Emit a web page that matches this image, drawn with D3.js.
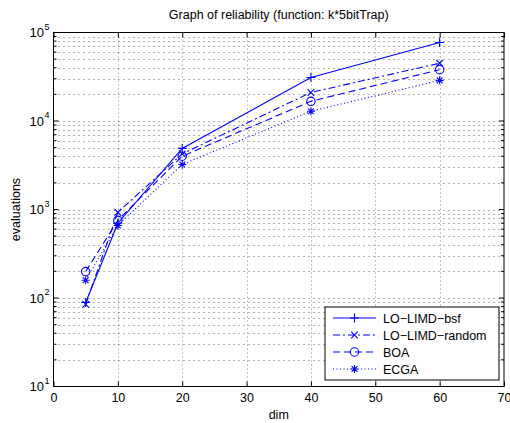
<!DOCTYPE html>
<html><head><meta charset="utf-8">
<script src="https://cdn.jsdelivr.net/npm/d3@7/dist/d3.min.js"></script>
<style>body{margin:0;background:#fff}svg{display:block}text{font-family:"Liberation Sans",Arial,sans-serif}</style>
</head><body><svg id="c" width="510" height="423"></svg>
<script>
const dims = [5, 10, 20, 40, 60];
const bsf = [89, 700, 4900, 31000, 77000];
const random = [85, 930, 4250, 21000, 45000];
const boa = [199, 755, 4000, 16700, 38000];
const ecga = [159, 660, 3230, 12900, 28800];
const seriesNames = ["LO\u2212LIMD\u2212bsf", "LO\u2212LIMD\u2212random", "BOA", "ECGA"];
const xTicks = [0, 10, 20, 30, 40, 50, 60, 70];
const yTicks = [10, 100, 1000, 10000, 100000];
const yExp = ["1", "2", "3", "4", "5"];

const FS = 12.5;
const svg = d3.select("#c");
const L = 53.5, R = 504, T = 32.5, B = 386.5;
const x = d3.scaleLinear().domain([0, 70]).range([L, R]);
const y = d3.scaleLog().domain([10, 100000]).range([B, T]);
const blue = "#0000ff";

// grid
const minor = [];
for (let e = 1; e < 5; e++) for (let m = 1; m <= 9; m++) minor.push(m * Math.pow(10, e));
minor.push(100000);
const g = svg.append("g");
g.selectAll(".hg").data(minor.filter(v => v > 10 && v < 100000)).join("line")
  .attr("x1", L).attr("x2", R).attr("y1", d => Math.round(y(d)) + 0.5).attr("y2", d => Math.round(y(d)) + 0.5)
  .attr("stroke", "#000").attr("stroke-opacity", 0.6).attr("stroke-width", 1).attr("stroke-dasharray", "1,4");
g.selectAll(".vg").data(xTicks.slice(1, -1)).join("line")
  .attr("y1", T).attr("y2", B).attr("x1", d => Math.round(x(d)) + 0.5).attr("x2", d => Math.round(x(d)) + 0.5)
  .attr("stroke", "#000").attr("stroke-opacity", 0.45).attr("stroke-width", 1).attr("stroke-dasharray", "1,3");

// axes
const xb = d3.axisBottom(x).tickValues(xTicks).tickSize(-5).tickPadding(7).tickFormat(d3.format("d"));
const xt = d3.axisTop(x).tickValues(xTicks).tickSize(-5).tickFormat("");
function styleAxis(sel) { sel.select(".domain").remove(); sel.selectAll("line").attr("stroke", "#000"); sel.selectAll("text").attr("font-size", FS).attr("fill", "#000").attr("font-family", "Liberation Sans, Arial, sans-serif"); }
svg.append("g").attr("transform", `translate(0,${B})`).call(xb).call(styleAxis);
svg.append("g").attr("transform", `translate(0,${T})`).call(xt).call(styleAxis);
// y ticks (major 5, minor 3)
const yTickG = svg.append("g");
yTickG.selectAll(".lt").data(minor).join("line")
  .attr("x1", L).attr("x2", d => L + (yTicks.includes(d) ? 5 : 3))
  .attr("y1", d => y(d)).attr("y2", d => y(d)).attr("stroke", "#000");
yTickG.selectAll(".rt").data(minor).join("line")
  .attr("x1", R).attr("x2", d => R - (yTicks.includes(d) ? 5 : 3))
  .attr("y1", d => y(d)).attr("y2", d => y(d)).attr("stroke", "#000");
// y labels
const yLab = svg.append("g");
yTicks.forEach((v, i) => {
  yLab.append("text").attr("x", 44).attr("y", y(v) + 4.5).attr("text-anchor", "end").attr("font-size", 13).attr("fill", "#000").text("10");
  yLab.append("text").attr("x", 44.5).attr("y", y(v) - 3).attr("font-size", 9).attr("fill", "#000").text(yExp[i]);
});

// box
svg.append("rect").attr("x", L).attr("y", T).attr("width", R - L).attr("height", B - T)
  .attr("fill", "none").attr("stroke", "#000").attr("stroke-width", 1);

// series
const data = [bsf, random, boa, ecga];
const dashes = [null, "7,3,2,3", "7,4", "1,2.5"];
const line = d3.line().x(d => x(d[0])).y(d => y(d[1]));
function marker(gg, type, cx, cy) {
  const s = gg.append("g").attr("transform", `translate(${cx},${cy})`).attr("stroke", blue).attr("fill", "none").attr("stroke-width", 1.1);
  if (type === 0) { s.append("path").attr("d", "M-4.5,0H4.5M0,-4.5V4.5"); }
  else if (type === 1) { s.append("path").attr("d", "M-3.3,-3.3L3.3,3.3M-3.3,3.3L3.3,-3.3"); }
  else if (type === 2) { s.append("circle").attr("r", 4.2); }
  else { s.append("path").attr("d", "M-4,0H4M0,-4V4M-2.9,-2.9L2.9,2.9M-2.9,2.9L2.9,-2.9"); }
}
data.forEach((vals, i) => {
  const pts = dims.map((d, j) => [d, vals[j]]);
  svg.append("path").attr("d", line(pts)).attr("fill", "none").attr("stroke", blue).attr("stroke-width", 1.1)
    .attr("stroke-dasharray", dashes[i]);
  const mg = svg.append("g");
  pts.forEach(p => marker(mg, i, x(p[0]), y(p[1])));
});

// legend
const lx = 325, ly = 307, lw = 174, lh = 73;
svg.append("rect").attr("x", lx).attr("y", ly).attr("width", lw).attr("height", lh).attr("fill", "#fff").attr("stroke", "#000");
seriesNames.forEach((n, i) => {
  const yy = ly + 11 + i * 17;
  svg.append("line").attr("x1", 333).attr("x2", 376).attr("y1", yy).attr("y2", yy)
    .attr("stroke", blue).attr("stroke-width", 1.1).attr("stroke-dasharray", dashes[i]);
  marker(svg, i, 354.5, yy);
  svg.append("text").attr("x", 383).attr("y", yy + 4.5).attr("font-size", FS).attr("fill", "#000").text(n);
});

// titles
svg.append("text").attr("x", (L + R) / 2).attr("y", 19).attr("text-anchor", "middle").attr("font-size", FS).attr("fill", "#000")
  .text("Graph of reliability (function: k*5bitTrap)");
svg.append("text").attr("x", (L + R) / 2).attr("y", 419).attr("text-anchor", "middle").attr("font-size", FS).attr("fill", "#000").text("dim");
svg.append("text").attr("transform", `translate(20,${(T + B) / 2}) rotate(-90)`).attr("text-anchor", "middle").attr("font-size", FS).attr("fill", "#000").text("evaluations");
</script></body></html>
